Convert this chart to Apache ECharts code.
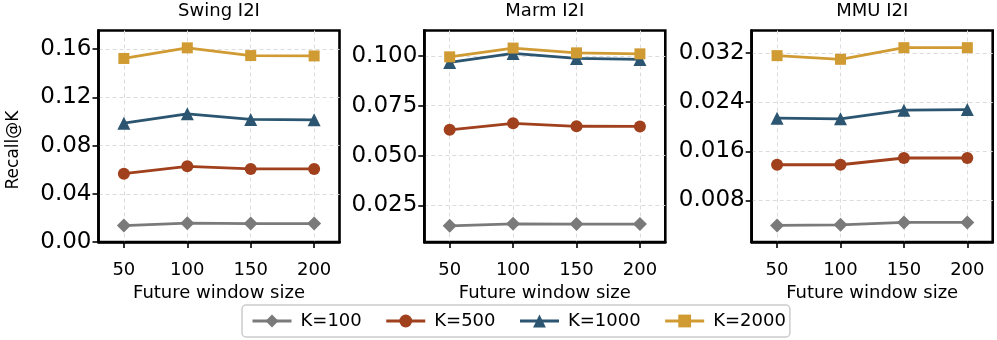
<!DOCTYPE html>
<html>
<head>
<meta charset="utf-8">
<script src="https://cdn.jsdelivr.net/npm/echarts@6/dist/echarts.min.js"></script>
<style>
  html, body { margin: 0; padding: 0; background: #ffffff; }
  #chart { width: 997px; height: 340px; }
</style>
</head>
<body>
<div id="chart"></div>
<script>
// ---- Data ----
const windowSizes = [50, 100, 150, 200];
const seriesNames = ['K=100', 'K=500', 'K=1000', 'K=2000'];
const panelTitles = ['Swing I2I', 'Marm I2I', 'MMU I2I'];

// Swing I2I
const swingK100  = [0.0136, 0.0156, 0.0153, 0.0153];
const swingK500  = [0.0567, 0.0628, 0.0606, 0.0606];
const swingK1000 = [0.0986, 0.1064, 0.1017, 0.1014];
const swingK2000 = [0.1523, 0.1611, 0.1547, 0.1544];

// Marm I2I
const marmK100  = [0.0148, 0.0158, 0.0157, 0.0157];
const marmK500  = [0.0629, 0.0662, 0.0647, 0.0646];
const marmK1000 = [0.0967, 0.1012, 0.0987, 0.0982];
const marmK2000 = [0.0995, 0.1039, 0.1015, 0.1010];

// MMU I2I
const mmuK100  = [0.0039, 0.0040, 0.0044, 0.0044];
const mmuK500  = [0.0138, 0.0138, 0.0149, 0.0149];
const mmuK1000 = [0.0214, 0.0213, 0.0227, 0.0228];
const mmuK2000 = [0.0316, 0.0310, 0.0329, 0.0329];

// Tick labels
const xTicks = [50, 100, 150, 200];
const swingYTicks = [0.00, 0.04, 0.08, 0.12, 0.16];
const marmYTicks = [0.025, 0.050, 0.075, 0.100];
const mmuYTicks = [0.008, 0.016, 0.024, 0.032];

// ---- Styles ----
const FONT = 'DejaVu Sans';
const colors = ['#7a7a7a', '#a0401c', '#2b5570', '#d19b33'];
const symbols = ['diamond', 'circle', 'triangle', 'rect'];
const symbolSizes = [14, 12, 13, 11];

const panelValues = [
  [swingK100, swingK500, swingK1000, swingK2000],
  [marmK100, marmK500, marmK1000, marmK2000],
  [mmuK100, mmuK500, mmuK1000, mmuK2000]
];
const panelYTicks = [swingYTicks, marmYTicks, mmuYTicks];
const yDecimals = [2, 3, 3];
const yRanges = [[0, 0.1755], [0.0067, 0.1127], [0.0012, 0.0357]];
const gridLefts = [98.5, 424.3, 751.7];
const gridWidth = 241;
const gridTop = 30.5;
const gridHeight = 211.5;

const grids = [], xAxes = [], yAxes = [], titles = [], series = [];
const gridLineStyle = { color: '#dcdcdc', width: 1, type: [4, 3] };
const frameLine = { show: true, onZero: false, lineStyle: { color: '#000', width: 2.6 } };

for (let p = 0; p < 3; p++) {
  grids.push({
    left: gridLefts[p], top: gridTop, width: gridWidth, height: gridHeight,
    show: true, borderColor: '#000', borderWidth: 2.6, backgroundColor: 'transparent',
    containLabel: false
  });
  titles.push({
    text: panelTitles[p],
    left: gridLefts[p] + gridWidth / 2, top: 2, textAlign: 'center', padding: 0,
    textStyle: { fontFamily: FONT, fontSize: 18, fontWeight: 'normal', color: '#000' }
  });
  xAxes.push({
    type: 'value', gridIndex: p, min: 30, max: 220,
    name: 'Future window size', nameLocation: 'middle', nameGap: 41,
    nameTextStyle: { fontFamily: FONT, fontSize: 18, color: '#000' },
    axisLine: frameLine,
    axisTick: { show: true, length: 6, lineStyle: { color: '#000', width: 1.6 }, customValues: xTicks },
    axisLabel: { fontFamily: FONT, fontSize: 18, color: '#000', margin: 19, customValues: xTicks },
    splitLine: { show: true, customValues: xTicks, lineStyle: gridLineStyle }
  });
  const dec = yDecimals[p];
  const yt = panelYTicks[p];
  yAxes.push({
    type: 'value', gridIndex: p, min: yRanges[p][0], max: yRanges[p][1],
    axisLine: frameLine,
    axisTick: { show: true, length: 6, lineStyle: { color: '#000', width: 1.6 }, customValues: yt },
    axisLabel: { fontFamily: FONT, fontSize: 23, color: '#000', margin: 7, customValues: yt,
      formatter: v => Number(v).toFixed(dec) },
    splitLine: { show: true, customValues: yt.filter(v => v > yRanges[p][0]), lineStyle: gridLineStyle }
  });
  for (let s = 0; s < 4; s++) {
    series.push({
      name: seriesNames[s], type: 'line', xAxisIndex: p, yAxisIndex: p,
      data: windowSizes.map((x, j) => [x, panelValues[p][s][j]]),
      symbol: symbols[s], symbolSize: symbolSizes[s],
      itemStyle: { color: colors[s] },
      lineStyle: { color: colors[s], width: 2.8 },
      z: 2 + s, animation: false
    });
  }
}

const chart = echarts.init(document.getElementById('chart'), null, { renderer: 'canvas' });
chart.setOption({
  backgroundColor: '#ffffff',
  animation: false,
  title: titles,
  grid: grids,
  xAxis: xAxes,
  yAxis: yAxes,
  legend: {
    data: seriesNames,
    left: 242, top: 305,
    orient: 'horizontal',
    itemWidth: 39, itemHeight: 16, itemGap: 23,
    padding: [7, 4, 7, 9],
    borderColor: '#cccccc', borderWidth: 1.5, borderRadius: 4,
    lineStyle: { width: 3 },
    textStyle: { fontFamily: FONT, fontSize: 18, color: '#000', padding: [0, 0, 0, 4] }
  },
  graphic: [{
    type: 'text', x: 14, y: 150, rotation: Math.PI / 2,
    style: { text: 'Recall@K', fontFamily: FONT, fontSize: 17, fill: '#000', align: 'center', verticalAlign: 'middle' }
  }],
  series: series
});
</script>
</body>
</html>
